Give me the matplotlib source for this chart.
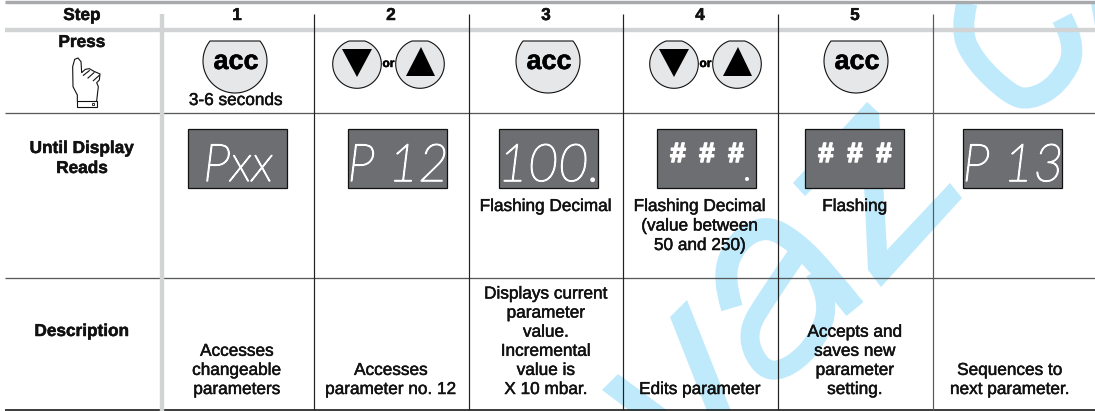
import matplotlib
matplotlib.use('Agg')
import matplotlib.pyplot as plt
import matplotlib.patches as patches
import matplotlib.patheffects as pe
from matplotlib.path import Path
import numpy as np

# everything is laid out in picture pixels
col_lines = [314, 469, 623, 778, 933]
col_centers = [237, 391, 546, 700, 855, 1010]
steps = ['1', '2', '3', '4', '5']
row_labels = [('Press', [47]), ('Until Display', [153]), ('Reads', [173]), ('Description', [336])]

acc_x = [235, 548, 856]
updown_x = [357, 674]
display_left = [188, 348, 499, 657, 805, 963]
display_text = ['Pxx', 'P 12', '100.', '###', '###', 'P 13']

under_display = [
    (546, ['Flashing Decimal']),
    (700, ['Flashing Decimal', '(value between', '50 and 250)']),
    (855, ['Flashing']),
]
descriptions = [
    ['Accesses', 'changeable', 'parameters'],
    ['Accesses', 'parameter no. 12'],
    ['Displays current', 'parameter', 'value.', 'Incremental', 'value is', 'X 10 mbar.'],
    ['Edits parameter'],
    ['Accepts and', 'saves new', 'parameter', 'setting.'],
    ['Sequences to', 'next parameter.'],
]

cyan = '#bfeafc'
FONT = 'Liberation Sans'
PX = 0.72

fig = plt.figure(figsize=(10.95, 4.11), dpi=100)
ax = fig.add_axes([0, 0, 1, 1])
ax.set_xlim(0, 1095)
ax.set_ylim(411, 0)
ax.axis('off')


def smooth(points, width):
    # quadratic curve through the midpoints of the control polygon
    verts = [points[0]]
    codes = [Path.MOVETO]
    for i in range(1, len(points) - 1):
        mid = ((points[i][0] + points[i + 1][0]) / 2, (points[i][1] + points[i + 1][1]) / 2)
        if i == len(points) - 2:
            mid = points[-1]
        verts += [points[i], mid]
        codes += [Path.CURVE3, Path.CURVE3]
    ax.add_patch(patches.PathPatch(Path(verts, codes), fc='none', ec=cyan, lw=width * PX,
                                   capstyle='butt', zorder=1))


def poly(points, **kw):
    ax.add_patch(patches.Polygon(points, closed=True, **kw))


def label(x, y, s, size=17.2, weight='normal', color='#111111', thick=0.35):
    t = ax.text(x, y, s, fontsize=size * PX, fontweight=weight, family=FONT,
                ha='center', va='baseline', color=color, zorder=6)
    t.set_path_effects([pe.withStroke(linewidth=thick, foreground=color)])


def button(cx, cy, r, top=41):
    start = np.arcsin((top - cy) / r)
    a = np.linspace(start, np.pi - start, 80)
    pts = np.column_stack([cx + r * np.cos(a), cy + r * np.sin(a)])
    poly(pts, fc='#e6e7e8', ec='#111111', lw=0.8, zorder=4)


# watermark
poly([(670, 317), (687, 300), (731, 411), (707, 411)], fc=cyan, ec='none', zorder=1)
poly([(602, 390), (618, 374), (668, 411), (630, 411)], fc=cyan, ec='none', zorder=1)
smooth([(732, 308), (722, 277), (737, 240), (767, 225), (797, 243), (825, 272), (855, 309)], 22)
smooth([(800, 250), (767, 297), (745, 335), (763, 372), (790, 368), (818, 340), (830, 300), (815, 272)], 19)
poly([(793, 183), (867, 102), (879, 113), (887, 250), (950, 183), (962, 198), (881, 287),
      (868, 270), (862, 140), (805, 196)], fc=cyan, ec='none', zorder=1)
smooth([(967, 3), (960, 30), (975, 62), (1010, 95), (1030, 100), (1058, 85), (1078, 48), (1062, 18)], 21)
poly([(1091, 3), (1095, 3), (1095, 26)], fc=cyan, ec='none', zorder=1)

# table rules
ax.plot([5, 1095], [1.6, 1.6], color='#a7a9ac', lw=3.4 * PX, solid_capstyle='butt', zorder=2)
ax.plot([5, 1095], [30.5, 30.5], color='#d1d3d4', lw=4.4 * PX, solid_capstyle='butt', zorder=2)
ax.plot([5, 1095], [113.5, 113.5], color='#58595b', lw=1.3 * PX, solid_capstyle='butt', zorder=2)
ax.plot([5, 1095], [277.5, 277.5], color='#58595b', lw=1.3 * PX, solid_capstyle='butt', zorder=2)
ax.plot([5, 1095], [410, 410], color='#111111', lw=1.6 * PX, solid_capstyle='butt', zorder=2)
ax.plot([162, 162], [14, 411], color='#d1d3d4', lw=4.4 * PX, solid_capstyle='butt', zorder=3)
for x in col_lines:
    c = '#58595b' if x == col_lines[-1] else '#222222'
    ax.plot([x, x], [14, 410], color=c, lw=1.2 * PX, solid_capstyle='butt', zorder=3)

# header and row names
label(82, 20, 'Step', weight='bold')
for x, s in zip(col_centers, steps):
    label(x, 20, s, weight='bold')
for s, ys in row_labels:
    label(82, ys[0], s, weight='bold')

# hand icon
hand_x = np.array([232, 232, 219, 218, 224, 234, 243, 245, 256, 268, 282, 300, 298, 290, 295, 292, 290]) / 3
hand_y = np.array([213, 195, 170, 110, 88, 84, 95, 128, 118, 116, 124, 132, 150, 158, 170, 195, 213]) / 3 + 30
ax.plot(hand_x, hand_y, color='#111111', lw=0.8, zorder=5)
ax.plot(np.array([250, 268]) / 3, np.array([136, 122]) / 3 + 30, color='#111111', lw=0.8, zorder=5)
ax.plot(np.array([264, 282]) / 3, np.array([144, 128]) / 3 + 30, color='#111111', lw=0.8, zorder=5)
ax.plot(np.array([280, 298]) / 3, np.array([152, 136]) / 3 + 30, color='#111111', lw=0.8, zorder=5)
ax.add_patch(patches.Rectangle((77, 101), 20, 6, fc='white', ec='#111111', lw=0.8, zorder=5))
ax.add_patch(patches.Rectangle((92, 103), 2, 2, fc='white', ec='#111111', lw=0.6, zorder=5))

# buttons
for x in acc_x:
    button(x, 61, 32)
    label(x + 1, 69, 'acc', size=27, weight='bold', color='black')
label(236, 105, '3-6 seconds')
for x in updown_x:
    button(x, 64, 24.3)
    button(x + 63, 64, 24.3)
    poly([(x - 15, 49), (x + 15, 49), (x, 77)], fc='black', ec='none', zorder=5)
    poly([(x + 49, 76), (x + 78, 76), (x + 64, 47)], fc='black', ec='none', zorder=5)
    label(x + 31.5, 67, 'or', size=12, weight='bold', color='black')

# displays
for left, s in zip(display_left, display_text):
    ax.add_patch(patches.Rectangle((left, 129), 99, 59, fc='#6d6e71', ec='#111111', lw=0.9, zorder=4))
    if '#' in s:
        for dx, ch in zip([21, 50, 79], s):
            label(left + dx, 162, ch, size=28, weight='bold', color='white', thick=1.1)
    else:
        t = ax.text(left + 50, 181, s, fontsize=52 * PX, family='Lato', fontweight='light', style='italic',
                    ha='center', va='baseline', color='white', zorder=6)
        t.set_path_effects([pe.withStroke(linewidth=1.0, foreground='white')])
ax.add_patch(patches.Circle((747, 179), 2, fc='white', ec='none', zorder=6))

# text under the displays
for x, lines in under_display:
    for i, s in enumerate(lines):
        label(x, 211 + i * 19.5, s)

# description row is bottom aligned
for x, lines in zip(col_centers, descriptions):
    for i, s in enumerate(reversed(lines)):
        label(x, 394 - i * 19.1, s)

fig.savefig('out.png', dpi=100)
